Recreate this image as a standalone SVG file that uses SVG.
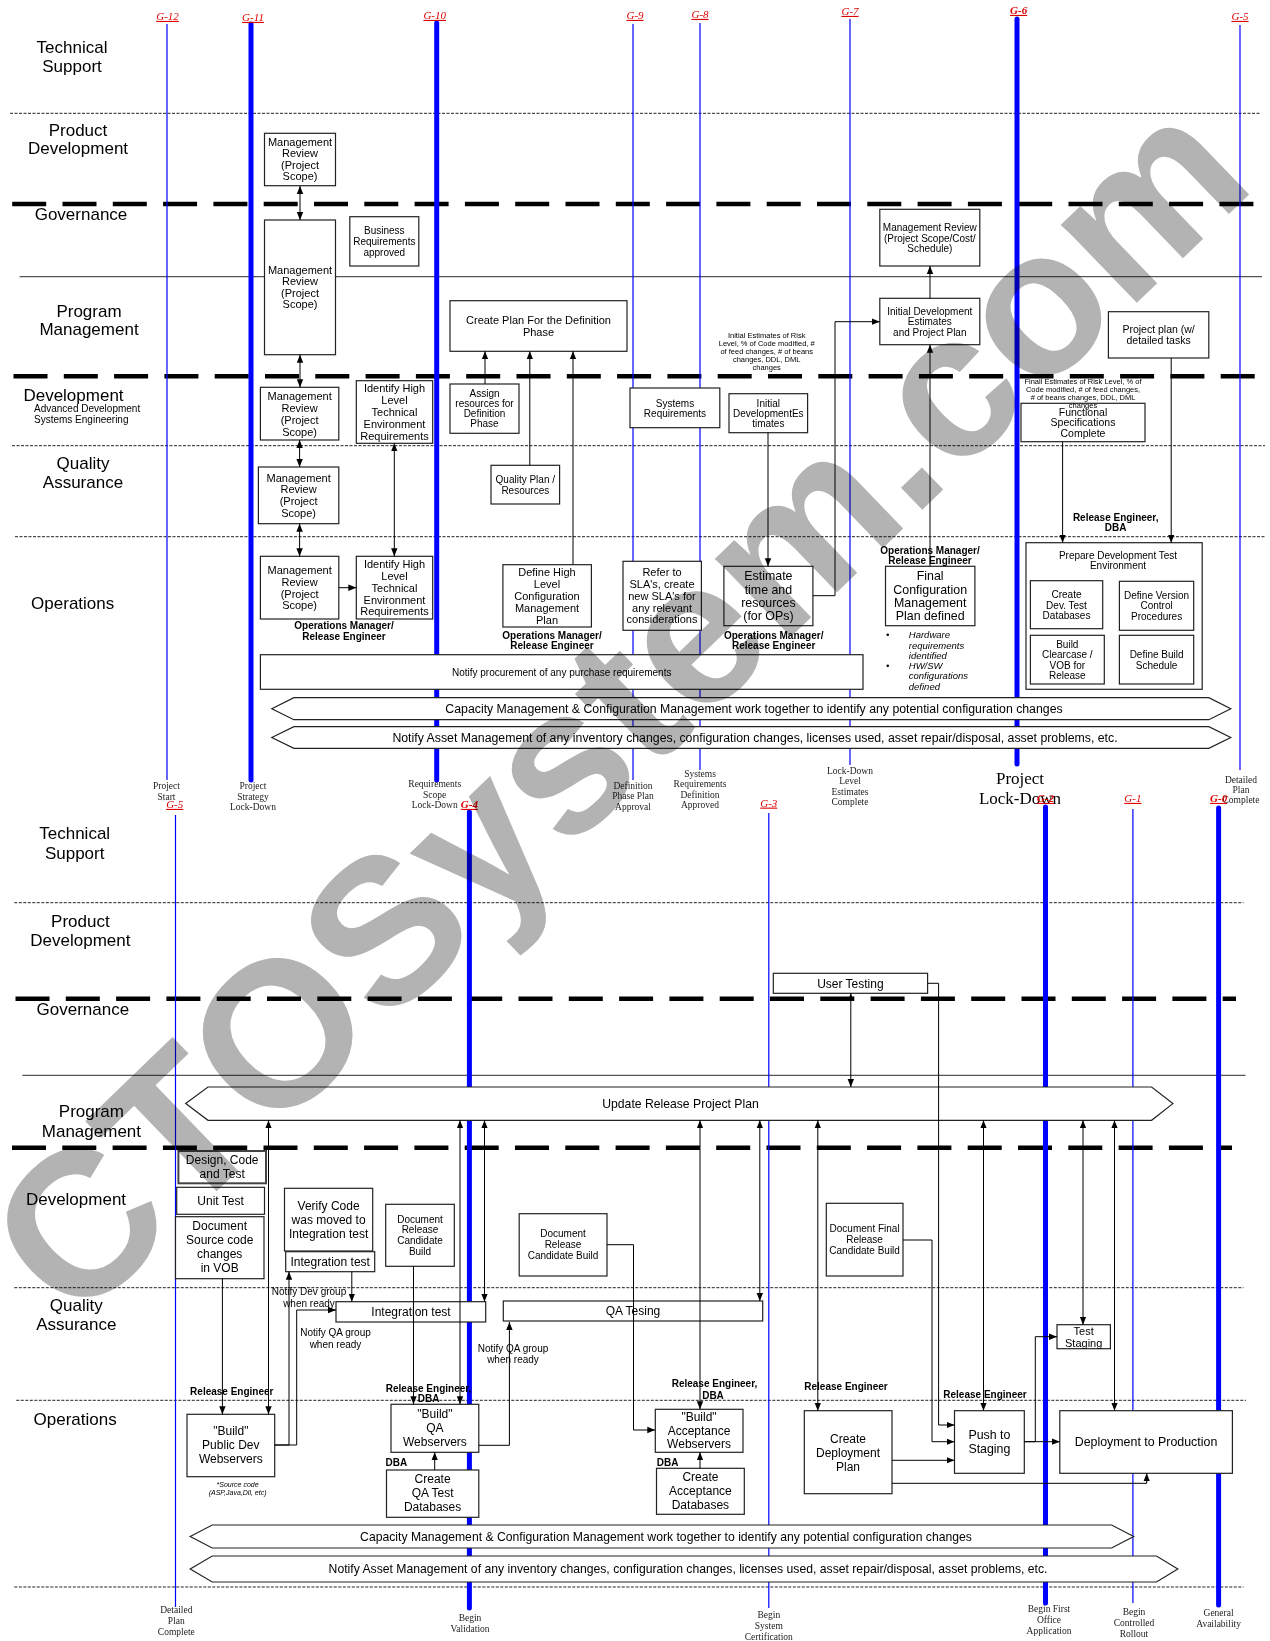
<svg xmlns="http://www.w3.org/2000/svg" width="1270" height="1641" viewBox="0 0 1270 1641">
<style>
text{font-family:"Liberation Sans",Arial,sans-serif;fill:#000;text-anchor:middle}
.lane{font-size:17px}
.t7{font-size:7.5px}
.t10{font-size:10px}
.t105{font-size:10.5px}
.t11{font-size:11px}
.t12{font-size:12px}
.t125{font-size:12.4px}
.b10{font-size:10px;font-weight:bold}
.it{font-size:9.5px;font-style:italic;text-anchor:start}
.g{font-family:"Liberation Serif","Times New Roman",serif;font-style:italic;font-size:11px;fill:#e00000;text-decoration:underline}
.gb{font-weight:bold}
.ms{font-family:"Liberation Serif","Times New Roman",serif;font-size:9.5px;fill:#222}
.big{font-family:"Liberation Serif","Times New Roman",serif;font-size:17px;fill:#000}
.box{fill:#fff;stroke:#222;stroke-width:1.2}
.box2{fill:#fff;stroke:#444;stroke-width:2}
.band{fill:#fff;stroke:#222;stroke-width:1.2}
.con{fill:none;stroke:#000;stroke-width:1}
.thin{stroke:#0000ff;stroke-width:1.2}
.thick{stroke:#0000ff;stroke-width:5;stroke-linecap:round}
.dot{stroke:#222;stroke-width:1;stroke-dasharray:3 1.5;fill:none}
.dash{stroke:#000;stroke-width:4.5;stroke-dasharray:34 16.3;fill:none}
.sol{stroke:#555;stroke-width:1.3;fill:none}
.wm{font-family:"Liberation Sans",Arial,sans-serif;font-weight:bold;font-size:206px;fill:#b3b3b3;text-anchor:start;mix-blend-mode:multiply}
</style>
<defs>
<marker id="ah" viewBox="0 0 8 8" refX="8" refY="4" markerWidth="8" markerHeight="8" markerUnits="userSpaceOnUse" orient="auto-start-reverse"><path d="M0,0.8 L8,4 L0,7.2z" fill="#000"/></marker>
</defs>
<rect x="0" y="0" width="1270" height="1641" fill="#fff"/>

<g id="lanes">
<line class="dot" x1="10" y1="113.3" x2="1260" y2="113.3"/>
<line class="dash" x1="12.2" y1="204" x2="1255" y2="204"/>
<line class="sol" x1="19.6" y1="276.7" x2="1262" y2="276.7"/>
<line class="dash" x1="13.5" y1="376.3" x2="1255" y2="376.3"/>
<line class="dot" x1="12" y1="445.7" x2="1265" y2="445.7"/>
<line class="dot" x1="15" y1="536.7" x2="1265" y2="536.7"/>
<line class="dot" x1="14.3" y1="902.7" x2="1243.5" y2="902.7"/>
<line class="dash" x1="15.5" y1="998.7" x2="1236" y2="998.7"/>
<line class="sol" x1="22.4" y1="1075.3" x2="1245.5" y2="1075.3"/>
<line class="dash" x1="12" y1="1147.7" x2="1232" y2="1147.7"/>
<line class="dot" x1="14.3" y1="1287.7" x2="1243.5" y2="1287.7"/>
<line class="dot" x1="16.3" y1="1400.3" x2="1246" y2="1400.3"/>
<line class="dot" x1="14.3" y1="1587" x2="1243.5" y2="1587"/>
<text class="lane" x="72" y="52.7">Technical</text><text class="lane" x="72" y="71.7">Support</text>
<text class="lane" x="78" y="136">Product</text><text class="lane" x="78" y="153.7">Development</text>
<text class="lane" x="81" y="219.7">Governance</text>
<text class="lane" x="89" y="316.7">Program</text><text class="lane" x="89" y="335">Management</text>
<text class="lane" x="73.5" y="400.7">Development</text>
<text class="t10" x="34" y="411.5" style="text-anchor:start">Advanced Development</text>
<text class="t10" x="34" y="422.5" style="text-anchor:start">Systems Engineering</text>
<text class="lane" x="83" y="468.7">Quality</text><text class="lane" x="83" y="488">Assurance</text>
<text class="lane" x="72.7" y="608.7">Operations</text>
<text class="lane" x="74.7" y="838.7">Technical</text><text class="lane" x="74.7" y="858.7">Support</text>
<text class="lane" x="80.4" y="926.7">Product</text><text class="lane" x="80.4" y="945.7">Development</text>
<text class="lane" x="82.9" y="1015">Governance</text>
<text class="lane" x="91.4" y="1116.7">Program</text><text class="lane" x="91.4" y="1136.7">Management</text>
<text class="lane" x="76" y="1205">Development</text>
<text class="lane" x="76.3" y="1311">Quality</text><text class="lane" x="76.3" y="1330">Assurance</text>
<text class="lane" x="75.1" y="1424.7">Operations</text>
</g>

<g id="milestones">
<line class="thin" x1="167" y1="24" x2="167" y2="780"/>
<line class="thick" x1="251" y1="24" x2="251" y2="780"/>
<line class="thick" x1="436.7" y1="23" x2="436.7" y2="780"/>
<line class="thin" x1="633" y1="24" x2="633" y2="780"/>
<line class="thin" x1="700" y1="23" x2="700" y2="770"/>
<line class="thin" x1="850" y1="19" x2="850" y2="765"/>
<line class="thick" x1="1017" y1="19" x2="1017" y2="764"/>
<line class="thin" x1="1240" y1="25" x2="1240" y2="770"/>
<line class="thin" x1="175.5" y1="815" x2="175.5" y2="1607"/>
<line class="thick" x1="469.4" y1="812" x2="469.4" y2="1608"/>
<line class="thin" x1="768.8" y1="813" x2="768.8" y2="1608"/>
<line class="thick" x1="1045.5" y1="807" x2="1045.5" y2="1603"/>
<line class="thin" x1="1132.9" y1="809" x2="1132.9" y2="1603"/>
<line class="thick" x1="1218.6" y1="808" x2="1218.6" y2="1605"/>
<text class="ms" x="166.5" y="789.3">Project</text><text class="ms" x="166.5" y="800.3">Start</text>
<text class="ms" x="253" y="789.3">Project</text><text class="ms" x="253" y="799.6">Strategy</text><text class="ms" x="253" y="810.3">Lock-Down</text>
<text class="ms" x="434.7" y="787.3">Requirements</text><text class="ms" x="434.7" y="798.3">Scope</text><text class="ms" x="434.7" y="808.3">Lock-Down</text>
<text class="ms" x="633" y="789.3">Definition</text><text class="ms" x="633" y="799.3">Phase Plan</text><text class="ms" x="633" y="810">Approval</text>
<text class="ms" x="700" y="777.3">Systems</text><text class="ms" x="700" y="787.3">Requirements</text><text class="ms" x="700" y="798.3">Definition</text><text class="ms" x="700" y="808.3">Approved</text>
<text class="ms" x="850" y="774.3">Lock-Down</text><text class="ms" x="850" y="784.3">Level</text><text class="ms" x="850" y="795.3">Estimates</text><text class="ms" x="850" y="805.3">Complete</text>
<text class="big" x="1020" y="783.7">Project</text><text class="big" x="1020" y="803.7">Lock-Down</text>
<text class="ms" x="1241" y="783.3">Detailed</text><text class="ms" x="1241" y="793.3">Plan</text><text class="ms" x="1241" y="803.3">Complete</text>
<text class="ms" x="176.3" y="1613.3">Detailed</text><text class="ms" x="176.3" y="1624.3">Plan</text><text class="ms" x="176.3" y="1635.3">Complete</text>
<text class="ms" x="470" y="1621.3">Begin</text><text class="ms" x="470" y="1632.3">Validation</text>
<text class="ms" x="768.8" y="1618.3">Begin</text><text class="ms" x="768.8" y="1629.3">System</text><text class="ms" x="768.8" y="1640.3">Certification</text>
<text class="ms" x="1049" y="1612.3">Begin First</text><text class="ms" x="1049" y="1623.3">Office</text><text class="ms" x="1049" y="1634.3">Application</text>
<text class="ms" x="1134" y="1615.3">Begin</text><text class="ms" x="1134" y="1626.3">Controlled</text><text class="ms" x="1134" y="1637.3">Rollout</text>
<text class="ms" x="1218.6" y="1616.3">General</text><text class="ms" x="1218.6" y="1627.3">Availability</text>
<text class="g" x="167.5" y="19.9">G-12</text>
<text class="g" x="253" y="20.9">G-11</text>
<text class="g" x="434.7" y="18.9">G-10</text>
<text class="g" x="635" y="18.9">G-9</text>
<text class="g" x="700" y="17.9">G-8</text>
<text class="g" x="850" y="14.9">G-7</text>
<text class="g gb" x="1018.6" y="13.9">G-6</text>
<text class="g" x="1240" y="19.9">G-5</text>
<text class="g" x="174.7" y="807.9">G-5</text>
<text class="g gb" x="469.4" y="807.9">G-4</text>
<text class="g" x="768.8" y="806.6">G-3</text>
<text class="g gb" x="1045.5" y="801.9">G-2</text>
<text class="g" x="1132.9" y="801.9">G-1</text>
<text class="g gb" x="1218.6" y="801.9">G-0</text>
</g>

<g id="n-mr-pd"><rect class="box" x="264.5" y="133.3" width="71" height="52.4"/><text class="t11" x="300" y="145.5">Management</text><text class="t11" x="300" y="157">Review</text><text class="t11" x="300" y="168.5">(Project</text><text class="t11" x="300" y="180">Scope)</text></g>
<g id="n-mr-gov"><rect class="box" x="264.5" y="220" width="71" height="134.7"/><text class="t11" x="300" y="273.5">Management</text><text class="t11" x="300" y="285">Review</text><text class="t11" x="300" y="296.5">(Project</text><text class="t11" x="300" y="308">Scope)</text></g>
<g id="n-busreq"><rect class="box" x="349.8" y="216.7" width="69" height="49.3"/><text class="t10" x="384.3" y="234.2">Business</text><text class="t10" x="384.3" y="244.5">Requirements</text><text class="t10" x="384.3" y="255.5">approved</text></g>
<g id="n-createplan"><rect class="box" x="450" y="300.7" width="177" height="50.6"/><text class="t11" x="538.5" y="323.6">Create Plan For the Definition</text><text class="t11" x="538.5" y="335.6">Phase</text></g>
<g id="n-mr-dev"><rect class="box" x="260.4" y="387.3" width="78.4" height="52.7"/><text class="t11" x="299.6" y="399.6">Management</text><text class="t11" x="299.6" y="411.6">Review</text><text class="t11" x="299.6" y="423.6">(Project</text><text class="t11" x="299.6" y="435.6">Scope)</text></g>
<g id="n-ident-dev"><rect class="box" x="356.3" y="380.7" width="76.4" height="62.6"/><text class="t11" x="394.5" y="391.6">Identify High</text><text class="t11" x="394.5" y="403.6">Level</text><text class="t11" x="394.5" y="415.6">Technical</text><text class="t11" x="394.5" y="427.6">Environment</text><text class="t11" x="394.5" y="439.6">Requirements</text></g>
<g id="n-assign"><rect class="box" x="450" y="384" width="69" height="49.3"/><text class="t10" x="484.5" y="396.5">Assign</text><text class="t10" x="484.5" y="406.5">resources for</text><text class="t10" x="484.5" y="417.2">Definition</text><text class="t10" x="484.5" y="427.2">Phase</text></g>
<g id="n-sysreq"><rect class="box" x="630" y="388" width="89.8" height="39.7"/><text class="t10" x="675" y="406.5">Systems</text><text class="t10" x="675" y="416.5">Requirements</text></g>
<g id="n-initdev"><rect class="box" x="729" y="393.7" width="78.6" height="39"/><text class="t10" x="768.3" y="406.5">Initial</text><text class="t10" x="768.3" y="416.5">DevelopmentEs</text><text class="t10" x="768.3" y="427.2">timates</text></g>
<g id="n-mr-qa"><rect class="box" x="258.4" y="467" width="80.4" height="56.7"/><text class="t11" x="298.6" y="481.6">Management</text><text class="t11" x="298.6" y="493.2">Review</text><text class="t11" x="298.6" y="504.6">(Project</text><text class="t11" x="298.6" y="516.6">Scope)</text></g>
<g id="n-qaplan"><rect class="box" x="491" y="465.3" width="68.6" height="38.7"/><text class="t10" x="525.3" y="482.5">Quality Plan /</text><text class="t10" x="525.3" y="493.5">Resources</text></g>
<g id="n-mr-ops"><rect class="box" x="260.4" y="556.3" width="78.4" height="62.7"/><text class="t11" x="299.6" y="573.6">Management</text><text class="t11" x="299.6" y="585.6">Review</text><text class="t11" x="299.6" y="597.6">(Project</text><text class="t11" x="299.6" y="608.6">Scope)</text></g>
<g id="n-ident-ops"><rect class="box" x="356.3" y="556.3" width="76.4" height="62.7"/><text class="t11" x="394.5" y="567.6">Identify High</text><text class="t11" x="394.5" y="579.6">Level</text><text class="t11" x="394.5" y="591.6">Technical</text><text class="t11" x="394.5" y="603.6">Environment</text><text class="t11" x="394.5" y="614.6">Requirements</text>
<text class="b10" x="344" y="628.5">Operations Manager/</text><text class="b10" x="344" y="639.5">Release Engineer</text></g>
<g id="n-definecm"><rect class="box" x="502.9" y="564.7" width="88.5" height="62.3"/><text class="t11" x="547" y="575.6">Define High</text><text class="t11" x="547" y="587.6">Level</text><text class="t11" x="547" y="599.6">Configuration</text><text class="t11" x="547" y="611.6">Management</text><text class="t11" x="547" y="623.6">Plan</text>
<text class="b10" x="552" y="638.5">Operations Manager/</text><text class="b10" x="552" y="648.5">Release Engineer</text></g>
<g id="n-sla"><rect class="box" x="623" y="561.3" width="78.4" height="69"/><text class="t11" x="662" y="575.6">Refer to</text><text class="t11" x="662" y="587.6">SLA's, create</text><text class="t11" x="662" y="599.6">new SLA's for</text><text class="t11" x="662" y="611.6">any relevant</text><text class="t11" x="662" y="622.6">considerations</text></g>
<g id="n-estimate"><rect class="box" x="723.9" y="566.3" width="89" height="59.4"/><text class="t125" x="768.4" y="579.7">Estimate</text><text class="t125" x="768.4" y="593.7">time and</text><text class="t125" x="768.4" y="606.7">resources</text><text class="t125" x="768.4" y="619.7">(for OPs)</text>
<text class="b10" x="773.7" y="638.5">Operations Manager/</text><text class="b10" x="773.7" y="648.5">Release Engineer</text></g>
<g id="n-initest"><rect class="box" x="879.8" y="298.3" width="100" height="46.4"/><text class="t10" x="929.8" y="314.5">Initial Development</text><text class="t10" x="929.8" y="324.5">Estimates</text><text class="t10" x="929.8" y="335.5">and Project Plan</text>
<text class="t7" x="766.7" y="338">Initial Estimates of Risk</text><text class="t7" x="766.7" y="346">Level, % of Code modified, #</text><text class="t7" x="766.7" y="354">of feed changes, # of beans</text><text class="t7" x="766.7" y="362">changes, DDL, DML</text><text class="t7" x="766.7" y="370">changes</text></g>
<g id="n-mr-cost"><rect class="box" x="879.8" y="209.3" width="100" height="56.7"/><text class="t10" x="929.8" y="230.5">Management Review</text><text class="t10" x="929.8" y="241.5">(Project Scope/Cost/</text><text class="t10" x="929.8" y="251.5">Schedule)</text></g>
<g id="n-finalcm"><rect class="box" x="885.5" y="566.3" width="89.4" height="59.4"/><text class="t125" x="930.2" y="579.7">Final</text><text class="t125" x="930.2" y="593.7">Configuration</text><text class="t125" x="930.2" y="606.7">Management</text><text class="t125" x="930.2" y="619.7">Plan defined</text>
<text class="b10" x="930" y="553.5">Operations Manager/</text><text class="b10" x="930" y="563.5">Release Engineer</text>
<text class="it" x="886" y="638.3">•</text><text class="it" x="908.8" y="638.3">Hardware</text><text class="it" x="908.8" y="648.6">requirements</text><text class="it" x="908.8" y="659.3">identified</text>
<text class="it" x="886" y="669">•</text><text class="it" x="908.8" y="669">HW/SW</text><text class="it" x="908.8" y="679.3">configurations</text><text class="it" x="908.8" y="690.3">defined</text></g>
<g id="n-projplan"><rect class="box" x="1108.4" y="311.7" width="100.4" height="46.3"/><text class="t105" x="1158.6" y="332.7">Project plan (w/</text><text class="t105" x="1158.6" y="343.7">detailed  tasks</text></g>
<g id="n-funcspec"><rect class="box" x="1021" y="403.3" width="124" height="38.4"/><text class="t105" x="1083" y="415.7">Functional</text><text class="t105" x="1083" y="425.7">Specifications</text><text class="t105" x="1083" y="436.7">Complete</text>
<text class="t7" x="1083" y="384.3">Finall Estimates of Risk Level, % of</text><text class="t7" x="1083" y="392.3">Code modified, # of feed changes,</text><text class="t7" x="1083" y="400.3"># of beans changes, DDL, DML</text><text class="t7" x="1083" y="408.3">changes</text></g>
<g id="n-prepenv"><rect class="box" x="1026" y="542.7" width="176.2" height="146.6"/><text class="t10" x="1118" y="558.5">Prepare Development Test</text><text class="t10" x="1118" y="568.5">Environment</text>
<text class="b10" x="1115.7" y="520.5">Release Engineer,</text><text class="b10" x="1115.7" y="530.5">DBA</text>
<rect class="box" x="1030.4" y="580.7" width="72.3" height="48"/><text class="t10" x="1066.5" y="597.5">Create</text><text class="t10" x="1066.5" y="608.5">Dev. Test</text><text class="t10" x="1066.5" y="618.5">Databases</text>
<rect class="box" x="1119.4" y="581.3" width="74.3" height="49"/><text class="t10" x="1156.6" y="598.5">Define Version</text><text class="t10" x="1156.6" y="608.5">Control</text><text class="t10" x="1156.6" y="619.5">Procedures</text>
<rect class="box" x="1030.4" y="635.3" width="73.9" height="48.7"/><text class="t10" x="1067.3" y="647.5">Build</text><text class="t10" x="1067.3" y="657.5">Clearcase /</text><text class="t10" x="1067.3" y="668.5">VOB for</text><text class="t10" x="1067.3" y="678.5">Release</text>
<rect class="box" x="1119.4" y="635.3" width="74.3" height="48.7"/><text class="t10" x="1156.6" y="657.5">Define Build</text><text class="t10" x="1156.6" y="668.5">Schedule</text></g>
<g id="n-procure"><rect class="box" x="260.4" y="654.7" width="602.6" height="34.6"/><text class="t10" x="561.7" y="675.5">Notify procurement of any purchase requirements</text></g>
<g id="n-capacity-top"><polygon class="band" points="271.8,708.7 293.9,697.7 1208.8,697.7 1230.8,708.7 1208.8,719.7 293.9,719.7"/><text style="font-size:12.3px" x="754" y="713">Capacity Management &amp; Configuration Management work together to identify any potential configuration changes</text></g>
<g id="n-asset-top"><polygon class="band" points="271.8,737.5 293.9,726.7 1208.8,726.7 1230.8,737.5 1208.8,748.3 293.9,748.3"/><text style="font-size:12.3px" x="755" y="741.8">Notify Asset Management of any inventory changes, configuration changes, licenses used, asset repair/disposal, asset problems, etc.</text></g>

<g id="m-usertest"><rect class="box" x="773.3" y="973.3" width="154.3" height="20"/><text class="t12" x="850.4" y="987.5">User Testing</text></g>
<g id="m-update"><polygon class="band" points="185.7,1103.6 208,1087 1151.6,1087 1172.9,1103.6 1151.6,1120.3 208,1120.3"/><text style="font-size:12.2px" x="680.5" y="1107.8">Update Release Project Plan</text></g>
<g id="m-design"><rect class="box2" x="178.4" y="1151" width="87.6" height="32.3"/><text class="t12" x="222.2" y="1164.2">Design, Code</text><text class="t12" x="222.2" y="1178.2">and Test</text></g>
<g id="m-unit"><rect class="box" x="176.7" y="1187.3" width="87.8" height="27"/><text class="t12" x="220.6" y="1205.2">Unit Test</text></g>
<g id="m-docsrc"><rect class="box" x="175.5" y="1216.7" width="88.5" height="62"/><text class="t12" x="219.7" y="1230.2">Document</text><text class="t12" x="219.7" y="1244.2">Source code</text><text class="t12" x="219.7" y="1258.2">changes</text><text class="t12" x="219.7" y="1272.2">in VOB</text></g>
<g id="m-verify"><rect class="box" x="284.5" y="1188.3" width="88.2" height="62.7"/><text class="t12" x="328.6" y="1210.2">Verify Code</text><text class="t12" x="328.6" y="1224.2">was moved to</text><text class="t12" x="328.6" y="1238.2">Integration test</text></g>
<g id="m-inttest-dev"><rect class="box" x="285.7" y="1251.7" width="89" height="20"/><text class="t12" x="330.2" y="1265.7">Integration test</text></g>
<g id="m-docrc1"><rect class="box" x="385.7" y="1204.3" width="68.6" height="62"/><text class="t10" x="420" y="1222.5">Document</text><text class="t10" x="420" y="1233.2">Release</text><text class="t10" x="420" y="1244.2">Candidate</text><text class="t10" x="420" y="1255.2">Build</text></g>
<g id="m-inttest-qa"><rect class="box" x="336" y="1301.7" width="149.7" height="20.3"/><text class="t12" x="411" y="1315.7">Integration test</text></g>
<g id="m-buildpub"><rect class="box" x="187" y="1414.3" width="87.7" height="62.4"/><text class="t12" x="230.8" y="1434.9">"Build"</text><text class="t12" x="230.8" y="1449.2">Public Dev</text><text class="t12" x="230.8" y="1463.2">Webservers</text>
<text class="b10" x="231.8" y="1394.5">Release Engineer</text>
<text x="237.6" y="1487.2" style="font-size:7px;font-style:italic">*Source code</text><text x="237.6" y="1495.2" style="font-size:7px;font-style:italic">(ASP,Java,Dll, etc)</text>
<text class="t10" x="309" y="1295.2">Notify Dev group</text><text class="t10" x="309" y="1306.5">when ready</text>
<text class="t10" x="335.5" y="1336.2">Notify QA group</text><text class="t10" x="335.5" y="1347.5">when ready</text></g>
<g id="m-buildqa"><rect class="box" x="391" y="1404.3" width="87.8" height="48"/><text class="t12" x="434.9" y="1418.2">"Build"</text><text class="t12" x="434.9" y="1432.2">QA</text><text class="t12" x="434.9" y="1446.2">Webservers</text>
<text class="b10" x="428.6" y="1391.5">Release Engineer,</text><text class="b10" x="428.6" y="1402.2">DBA</text>
<text class="t10" x="513" y="1351.5">Notify QA group</text><text class="t10" x="513" y="1362.5">when ready</text></g>
<g id="m-qadb"><rect class="box" x="386.5" y="1470" width="92.3" height="47.3"/><text class="t12" x="432.6" y="1482.9">Create</text><text class="t12" x="432.6" y="1497.2">QA Test</text><text class="t12" x="432.6" y="1511.2">Databases</text><text class="b10" x="396.3" y="1465.5">DBA</text></g>
<g id="m-qatesing"><rect class="box" x="503.3" y="1301" width="259.4" height="20"/><text class="t12" x="633" y="1315.2">QA Tesing</text></g>
<g id="m-docrc2"><rect class="box" x="519.2" y="1213.7" width="87.8" height="62.3"/><text class="t10" x="563" y="1237.2">Document</text><text class="t10" x="563" y="1248.2">Release</text><text class="t10" x="563" y="1259.2">Candidate Build</text></g>
<g id="m-buildacc"><rect class="box" x="655.3" y="1409.3" width="87.7" height="43"/><text class="t12" x="699" y="1421.2">"Build"</text><text class="t12" x="699" y="1434.5">Acceptance</text><text class="t12" x="699" y="1448.2">Webservers</text>
<text class="b10" x="714.5" y="1387.2">Release Engineer,</text><text class="b10" x="713" y="1399.2">DBA</text></g>
<g id="m-accdb"><rect class="box" x="656.5" y="1468.3" width="87.8" height="46"/><text class="t12" x="700.4" y="1481.2">Create</text><text class="t12" x="700.4" y="1495.2">Acceptance</text><text class="t12" x="700.4" y="1509.2">Databases</text><text class="b10" x="667.6" y="1466.2">DBA</text></g>
<g id="m-docfinal"><rect class="box" x="826.3" y="1203.3" width="76.7" height="72.7"/><text class="t10" x="864.6" y="1232.2">Document Final</text><text class="t10" x="864.6" y="1243.2">Release</text><text class="t10" x="864.6" y="1254.2">Candidate Build</text></g>
<g id="m-deplan"><rect class="box" x="804.3" y="1410.7" width="87.7" height="83"/><text class="t12" x="848" y="1442.5">Create</text><text class="t12" x="848" y="1456.5">Deployment</text><text class="t12" x="848" y="1470.5">Plan</text><text class="b10" x="846" y="1389.5">Release Engineer</text></g>
<g id="m-push"><rect class="box" x="954.5" y="1410.7" width="69.8" height="62.6"/><text class="t125" x="989.4" y="1439.3">Push to</text><text class="t125" x="989.4" y="1452.6">Staging</text><text class="b10" x="985" y="1397.5">Release Engineer</text></g>
<g id="m-teststaging"><rect class="box" x="1057" y="1324.7" width="53.4" height="24"/><text class="t11" x="1083.7" y="1334.6">Test</text><text class="t11" x="1083.7" y="1346.6">Staging</text></g>
<g id="m-deploy"><rect class="box" x="1059.8" y="1410.7" width="172.6" height="62.6"/><text class="t125" x="1146" y="1446.3">Deployment to Production</text></g>
<g id="m-capacity"><polygon class="band" points="190.2,1536.5 212.2,1525 1111.6,1525 1133.7,1536.5 1111.6,1548 212.2,1548"/><text style="font-size:12.2px" x="666" y="1540.8">Capacity Management &amp; Configuration Management work together to identify any potential configuration changes</text></g>
<g id="m-asset"><polygon class="band" points="190.2,1569 212.2,1556 1156.5,1556 1177.8,1569 1156.5,1582 212.2,1582"/><text style="font-size:12.2px" x="688" y="1573.3">Notify Asset Management of any inventory changes, configuration changes, licenses used, asset repair/disposal, asset problems, etc.</text></g>

<g id="connectors" class="con">
<path class="con" d="M300,186 V220" marker-start="url(#ah)" marker-end="url(#ah)"/>
<path class="con" d="M300,354.7 V387.3" marker-start="url(#ah)" marker-end="url(#ah)"/>
<path class="con" d="M299.6,440 V467" marker-start="url(#ah)" marker-end="url(#ah)"/>
<path class="con" d="M299.6,523.7 V556.3" marker-start="url(#ah)" marker-end="url(#ah)"/>
<path class="con" d="M338.8,587.7 H356.3" marker-end="url(#ah)"/>
<path class="con" d="M394.3,443.3 V556.3" marker-start="url(#ah)" marker-end="url(#ah)"/>
<path class="con" d="M485,384 V351.3" marker-end="url(#ah)"/>
<path class="con" d="M529.8,465.3 V351.3" marker-end="url(#ah)"/>
<path class="con" d="M573,564.7 V351.3" marker-end="url(#ah)"/>
<path class="con" d="M768,432.7 V566.3" marker-end="url(#ah)"/>
<path class="con" d="M812.9,595.7 H835 V321.7 H879.8" marker-end="url(#ah)"/>
<path class="con" d="M930,566.3 V344.7" marker-end="url(#ah)"/>
<path class="con" d="M930,298.3 V266" marker-end="url(#ah)"/>
<path class="con" d="M1062.6,441.7 V542.7" marker-end="url(#ah)"/>
<path class="con" d="M1171.2,358 V542.7" marker-end="url(#ah)"/>
<path class="con" d="M850.8,993.3 V1087" marker-start="url(#ah)" marker-end="url(#ah)"/>
<path class="con" d="M927.6,983.3 H938.6 V1425 H954.5" marker-end="url(#ah)"/>
<path class="con" d="M268.5,1120.3 V1414.3" marker-start="url(#ah)" marker-end="url(#ah)"/>
<path class="con" d="M222.4,1278.7 V1414.3" marker-end="url(#ah)"/>
<path class="con" d="M460,1120.3 V1404.3" marker-start="url(#ah)" marker-end="url(#ah)"/>
<path class="con" d="M484.5,1120.3 V1301.7" marker-start="url(#ah)" marker-end="url(#ah)"/>
<path class="con" d="M700,1120.3 V1409.3" marker-start="url(#ah)" marker-end="url(#ah)"/>
<path class="con" d="M759.8,1120.3 V1301" marker-start="url(#ah)" marker-end="url(#ah)"/>
<path class="con" d="M817.8,1120.3 V1410.7" marker-start="url(#ah)" marker-end="url(#ah)"/>
<path class="con" d="M983.5,1120.3 V1410.7" marker-start="url(#ah)" marker-end="url(#ah)"/>
<path class="con" d="M1083,1120.3 V1324.7" marker-start="url(#ah)" marker-end="url(#ah)"/>
<path class="con" d="M1114.5,1120.3 V1410.7" marker-start="url(#ah)" marker-end="url(#ah)"/>
<path class="con" d="M351.8,1271.7 V1301.7" marker-end="url(#ah)"/>
<path class="con" d="M274.7,1445 H289 V1271.7" marker-end="url(#ah)"/>
<path class="con" d="M274.7,1445 H296.7 V1310 H336" marker-end="url(#ah)"/>
<path class="con" d="M413.5,1266.3 V1404.3" marker-end="url(#ah)"/>
<path class="con" d="M478.8,1445.3 H509.4 V1322" marker-end="url(#ah)"/>
<path class="con" d="M434.7,1470 V1452.3" marker-end="url(#ah)"/>
<path class="con" d="M607,1244.7 H633.5 V1430 H655.3" marker-end="url(#ah)"/>
<path class="con" d="M700,1468.3 V1452.3" marker-end="url(#ah)"/>
<path class="con" d="M903,1240 H932 V1441.7 H954.5" marker-end="url(#ah)"/>
<path class="con" d="M892,1460.3 H954.5" marker-end="url(#ah)"/>
<path class="con" d="M892,1483.3 H1146.7 V1473.3" marker-end="url(#ah)"/>
<path class="con" d="M1024.3,1441.7 H1059.8" marker-end="url(#ah)"/>
<path class="con" d="M1024.3,1441.7 H1035.3 V1336.7 H1057" marker-end="url(#ah)"/>
</g>

<g id="watermark"><text class="wm" x="75" y="1328" transform="rotate(-44 75 1328)">CTOSystem.com</text></g>
</svg>
